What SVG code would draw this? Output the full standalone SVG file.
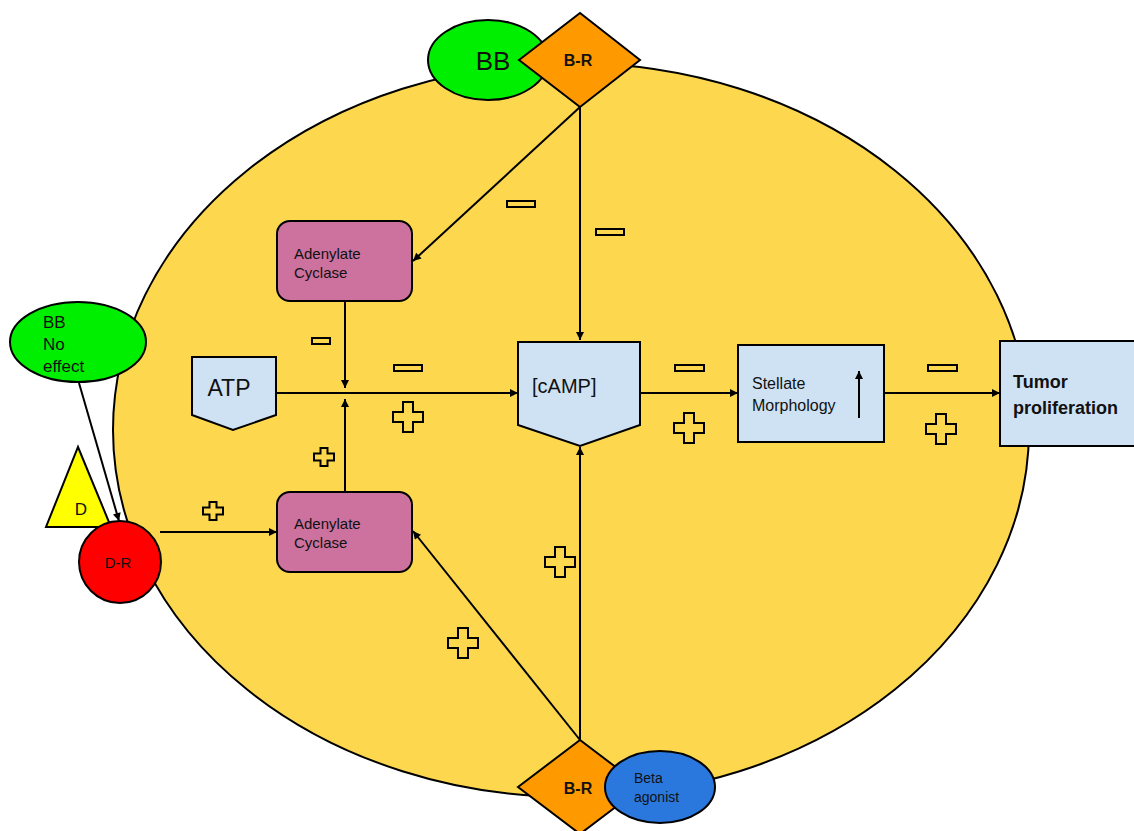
<svg xmlns="http://www.w3.org/2000/svg" width="1134" height="831" viewBox="0 0 1134 831">
<style>
.o{stroke:#000;stroke-width:2}
.t{font-family:"Liberation Sans",Arial,sans-serif;fill:#111}
.c{fill:none;stroke:#000;stroke-width:2}
.sg{fill:#fdd84f;stroke:#000;stroke-width:2}
.box{fill:#cfe2f3}
.ac{fill:#cd729f}
</style>
<defs>
<marker id="ah" viewBox="0 0 10 10" refX="10" refY="5" markerWidth="9" markerHeight="8" markerUnits="userSpaceOnUse" orient="auto">
<path d="M0,0 L10,5 L0,10 z" fill="#000"/>
</marker>
<path id="plusL" d="M-5,-15 H5 V-5 H15 V5 H5 V15 H-5 V5 H-15 V-5 H-5 z"/>
<path id="plusS" d="M-3.5,-9 H3.5 V-3.5 H10 V3.5 H3.5 V9 H-3.5 V3.5 H-10 V-3.5 H-3.5 z"/>
</defs>
<rect width="1134" height="831" fill="#fff"/>
<g id="cell"><ellipse cx="571" cy="430" rx="458" ry="367" fill="#fdd84f" stroke="#000" stroke-width="2"/></g>

<g id="connectors">
<line class="c" x1="580" y1="107" x2="580" y2="340" marker-end="url(#ah)"/>
<line class="c" x1="580" y1="107" x2="413" y2="261" marker-end="url(#ah)"/>
<line class="c" x1="345" y1="301" x2="345" y2="388" marker-end="url(#ah)"/>
<line class="c" x1="345" y1="492" x2="345" y2="399" marker-end="url(#ah)"/>
<line class="c" x1="276" y1="393" x2="518" y2="393" marker-end="url(#ah)"/>
<line class="c" x1="640" y1="393" x2="738" y2="393" marker-end="url(#ah)"/>
<line class="c" x1="884" y1="393" x2="1000" y2="393" marker-end="url(#ah)"/>
<line class="c" x1="580" y1="740" x2="580" y2="447" marker-end="url(#ah)"/>
<line class="c" x1="580" y1="740" x2="413" y2="531" marker-end="url(#ah)"/>
<line class="c" x1="160" y1="532" x2="277" y2="532" marker-end="url(#ah)"/>
<line class="c" x1="79" y1="383" x2="119" y2="521" marker-end="url(#ah)"/>
</g>

<g id="signs">
<rect class="sg" x="507" y="201" width="28" height="6"/>
<rect class="sg" x="596" y="229" width="28" height="6"/>
<rect class="sg" x="312" y="338" width="18" height="6"/>
<rect class="sg" x="394" y="365" width="28" height="6"/>
<rect class="sg" x="675" y="365" width="29" height="6"/>
<rect class="sg" x="928" y="365" width="29" height="6"/>
<use href="#plusL" class="sg" transform="translate(408,417)"/>
<use href="#plusL" class="sg" transform="translate(689,428)"/>
<use href="#plusL" class="sg" transform="translate(941,429)"/>
<use href="#plusL" class="sg" transform="translate(560,562)"/>
<use href="#plusL" class="sg" transform="translate(463,643)"/>
<use href="#plusS" class="sg" transform="translate(324,457)"/>
<use href="#plusS" class="sg" transform="translate(213,511)"/>
</g>

<g id="bb-top">
<ellipse class="o" cx="488" cy="60" rx="60" ry="40" fill="#00ee00"/>
<text class="t" x="493" y="70" font-size="26" text-anchor="middle">BB</text>
</g>
<g id="br-top">
<path class="o" d="M519,60 L580,13 L640,60 L580,107 z" fill="#ff9900"/>
<text class="t" x="578" y="66" font-size="16" font-weight="bold" text-anchor="middle">B-R</text>
</g>

<g id="ac-top">
<rect class="o ac" x="277" y="221" width="135" height="80" rx="13"/>
<text class="t" x="294" y="259" font-size="15">Adenylate</text>
<text class="t" x="294" y="278" font-size="15">Cyclase</text>
</g>
<g id="ac-bottom">
<rect class="o ac" x="277" y="492" width="135" height="80" rx="13"/>
<text class="t" x="294" y="529" font-size="15">Adenylate</text>
<text class="t" x="294" y="548" font-size="15">Cyclase</text>
</g>

<g id="atp">
<path class="o box" d="M192,357 H276 V415 L233,430 L192,415 z"/>
<text class="t" x="229" y="396" font-size="23" text-anchor="middle">ATP</text>
</g>
<g id="camp">
<path class="o box" d="M518,342 H640 V425 L580,446 L518,425 z"/>
<text class="t" x="532" y="393" font-size="20">[cAMP]</text>
</g>
<g id="stellate">
<rect class="o box" x="738" y="345" width="146" height="97"/>
<text class="t" x="752" y="389" font-size="16">Stellate</text>
<text class="t" x="752" y="411" font-size="16">Morphology</text>
<line class="c" x1="859" y1="418" x2="859" y2="371" marker-end="url(#ah)"/>
</g>
<g id="tumor">
<rect class="o box" x="1000" y="341" width="140" height="105"/>
<text class="t" x="1013" y="388" font-size="18" font-weight="bold">Tumor</text>
<text class="t" x="1013" y="414" font-size="18" font-weight="bold">proliferation</text>
</g>

<g id="bb-noeffect">
<ellipse class="o" cx="78" cy="342" rx="68" ry="40" fill="#00ee00"/>
<text class="t" x="43" y="328" font-size="17">BB</text>
<text class="t" x="43" y="350" font-size="17">No</text>
<text class="t" x="43" y="372" font-size="17">effect</text>
</g>
<g id="d">
<path class="o" d="M78,447 L111,527 L46,527 z" fill="#ffff00"/>
<text class="t" x="81" y="515" font-size="17" text-anchor="middle">D</text>
</g>
<g id="dr">
<circle class="o" cx="120" cy="562" r="41" fill="#ff0000"/>
<text class="t" x="118" y="568" font-size="15" text-anchor="middle">D-R</text>
</g>

<g id="br-bottom">
<path class="o" d="M518,787 L580,740 L642,787 L580,834 z" fill="#ff9900"/>
<text class="t" x="578" y="794" font-size="16" font-weight="bold" text-anchor="middle">B-R</text>
</g>
<g id="beta">
<ellipse class="o" cx="660" cy="787" rx="55" ry="36" fill="#2a78de"/>
<text class="t" x="634" y="783" font-size="14">Beta</text>
<text class="t" x="634" y="802" font-size="14">agonist</text>
</g>
</svg>
